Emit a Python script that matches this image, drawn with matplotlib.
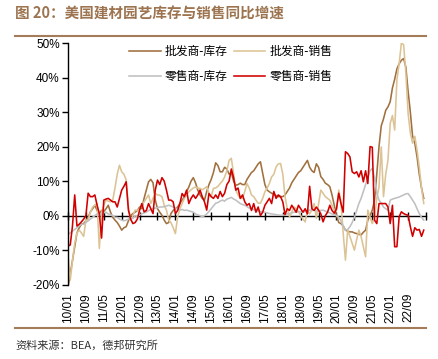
import numpy as np
import matplotlib
matplotlib.use("Agg")
import matplotlib.pyplot as plt
from matplotlib.lines import Line2D
from matplotlib.ticker import FuncFormatter

plt.rcParams["font.family"] = ["Liberation Sans", "Noto Sans CJK SC", "DejaVu Sans"]

# ─────────────────────────────────────────────
# Data: monthly YoY (%), 2010/01 - 2023/04
# ─────────────────────────────────────────────
tick_labels = ["10/01", "10/09", "11/05", "12/01", "12/09", "13/05", "14/01",
               "14/09", "15/05", "16/01", "16/09", "17/05", "18/01", "18/09",
               "19/05", "20/01", "20/09", "21/05", "22/01", "22/09"]

series_names = ["批发商-库存", "批发商-销售", "零售商-库存", "零售商-销售"]

wholesale_inv = [
    -20.6, -17, -13, -9, -5, -3.5, -2.5, -2.3, -1.5, -0.5, 1.1, 2,
    3, 1.5, 0.6, 1.5, 1.2, 2, 3, 1, -0.5, -1.3, -2, -3,
    -4.2, -3.5, -3.2, -1.5, 0, 0.6, 1, 1.5, 2.5, 2, 5, 7.4,
    9.8, 10.5, 9.5, 4.5, 2, 1, 0.1, -1.3, -2.3, -2, 0.6, 1.5,
    2, 2.5, 3.5, 4.5, 5.4, 7, 8.3, 10, 11, 9.5, 7.4, 6,
    5, 4.5, 7, 9, 10.5, 12.5, 15.3, 14.5, 12.7, 12.7, 14, 13.5,
    12, 12.5, 10, 8.8, 9, 9.4, 9, 9, 10.5, 11.5, 12.5, 13,
    14, 15, 15.6, 12.3, 9, 7.4, 6.9, 6.5, 6.2, 5.8, 5.5, 5.5,
    5.5, 6, 7, 8, 9.5, 10.5, 11.5, 12.5, 13, 14, 15, 16,
    14, 13, 12.5, 15, 14, 11.3, 10.5, 9.4, 9, 8.4, 6, 3,
    0, -2, -2.3, -3, -4.2, -4.5, -4.7, -4.7, -5, -5.2, -5.4, -5.6,
    -4.8, -4.2, -1.3, 0, 1.6, 4.5, 12, 20, 26, 28, 30.5, 31.5,
    33, 37, 39.5, 42.5, 44, 45, 45.5, 43, 36, 30, 23, 21,
    17, 12, 8, 5,
]

wholesale_sales = [
    -11.5, -18.7, -13, -8, -5, -4.2, -5, -6, -1.3, -1.3, 1, 2.5,
    3, 3.6, -9.5, 0.7, 3, 4.5, 4.2, 4, 4.5, 8, 12, 14.6,
    12.7, 12, 10.3, 2.5, -1.3, 0, 1.6, 1.5, 2, 3, 4, 5,
    6, 3.5, 5, 6.4, 6, 5.9, 5.5, 3, 1.6, -1.3, -2, -3.5,
    -5.2, -0.3, 2, 3.5, 5, 6, 6.9, 7.5, 8, 8.3, 8, 7.9,
    7.5, 7.9, 8.4, 6.5, 5.5, 7.9, 8, 8.5, 9.3, 10, 11.2, 13,
    16, 16.6, 12.2, 7.4, 6, 5, 5, 7, 9.3, 8, 6, 5.5,
    4.5, 3.6, 3.6, 5, 6.9, 8, 9.3, 11.2, 12, 14.1, 15, 15.1,
    12, 5.5, 2, -0.3, 1, 2.5, 2, 1.1, 0, -1, -1.8, 1.6,
    0.5, 1.6, 3.5, -0.8, 3.5, 7.4, 6.5, 5.5, 5, 4.5, 3, 1.6,
    1.6, 7.4, 4, -5.2, -12.9, -4.2, -6, -8, -10, -7, -4.2, -6.1,
    -9, -11.9, 1.6, -0.5, -2.3, -0.3, 5, 8.3, 19.9, 5.5, 12, 16,
    26.7, 29, 24.8, 39.3, 44, 50, 49.5, 41.2, 29.6, 24, 21, 23,
    19, 14, 8, 3.5,
]

retail_inv = [
    -5.4, -5, -4.5, -4, -3.5, -3, -2.5, -2.5, -2, -1.5, -1, -0.5,
    0, 0.5, 0, 0.5, 0.8, 1, 0.5, 0.3, 0, -0.5, -0.5, -1,
    -1.3, -1.5, -1.3, -1, -0.5, -0.8, 0, -0.3, 0.2, 0.5, 0.8, 1,
    1.5, 1.8, 2, 2.2, 2.3, 2.5, 2.5, 2.6, 2.8, 3, 2.8, 2.5,
    2.2, 2, 1.6, 1.8, 1.5, 1.6, 1.4, 1.2, 1, 0.5, 0.2, 0,
    -0.3, 0, 0.5, 1.2, 2, 2.8, 3.6, 3.8, 4.2, 4.5, 4.2, 4.8,
    5, 5.3, 4.8, 4.5, 4, 3.5, 3.2, 3, 2.6, 2.2, 2, 1.8,
    1.5, 1.4, 1.2, 1.1, 1, 0.8, 0.6, 0.5, 0.4, 0.3, 0.2, 0.1,
    0.1, 0.3, 0.5, 0.6, 0.8, 1, 1, 1.2, 1.1, 1, 1.2, 1.4,
    1.6, 1.5, 1.6, 1.4, 1.2, 1.5, 1.6, 1.3, 1, 0.8, 0.5, 0.2,
    0, -0.5, -1.5, -3, -4.2, -4, -3.2, -2, -0.5, 1.5, 3.5, 5,
    7, 9, 11, 13, 13.7, 11, 6.5, 4.5, 3.6, 2.5, 2, 1.6,
    4.5, 4.8, 5, 5.2, 5.4, 5.7, 6, 6.3, 6.4, 5.5, 4.5, 3.5,
    2, 0.6, -0.5, -1.3,
]

retail_sales = [
    -8.8, -8.5, -3, 6, -3, -2.5, -1.8, -1, 0, 6.5, 5.5, 5.5,
    6, 3, 0.6, -6.5, 4.5, 4.8, 5, 4.5, 4, 4, 2.5, 5,
    7.4, 8.5, 9.8, 1.6, -1, -2.3, -2, -1, 1.6, 3.5, 1.1, 1.5,
    3.5, 2, 0.6, 7.4, 10.3, 9, 11, 10, 7.4, 4.5, 4.5, 4,
    0.6, 1.5, 3.5, 6.4, 5.5, 7.4, 3.5, 5, 6, 5, 6, 7.4,
    5.5, 4, 1.6, 6.4, 5.5, 5, 6, 5, 7, 5.5, 6.5, 9,
    10, 13.5, 11, 7.4, 8, 5, 6, 4, 3, 3.5, 1.5, 3.5,
    1, 2.5, 0, 1, 3, 4, 5, 3.5, 7, 5, 6, 5.5,
    4, 0.3, 2, 1.5, 3, 2, 1, 3, 2, 1, 2, 0.5,
    8.5, 2, 1.5, 2.5, 1.6, 0.5, -1.8, 0, 1, 3, 1.5, 0.7,
    2, 6.5, 3.5, 1, 18.5, 18, 17, 12.7, 12.2, 12.7, 11.2, 13,
    9.8, 13, 9.3, 20, 19.8, -1.3, -2.3, 3.5, 3.5, 3.5, 3.5, 2.5,
    -2.3, 3, -9, -9, -0.3, 1.1, 0.6, 0.3, 0.1, -3.2, -6, -3.5,
    -4.2, -4, -6, -4.2,
]

colors = ["#A0703F", "#DCC395", "#C0C0C0", "#D00000"]
brown = "#A57C58"

# ─────────────────────────────────────────────
# Figure
# ─────────────────────────────────────────────
W, H = 439, 359
fig = plt.figure(figsize=(W / 100, H / 100), dpi=100)
ax = fig.add_axes([68 / W, 1 - 284.7 / H, (426 - 68) / W, (284.7 - 43) / H])

x = np.arange(len(wholesale_inv))
handles = []
for vals, c, name in zip([wholesale_inv, wholesale_sales, retail_inv, retail_sales],
                         colors, series_names):
    h, = ax.plot(x, vals, color=c, lw=1.15, label=name, solid_joinstyle="round")
    handles.append(h)

ax.set_xlim(0, 160)
ax.set_ylim(-20, 50)
ax.set_yticks(range(-20, 51, 10))
ax.yaxis.set_major_formatter(FuncFormatter(lambda v, p: f"{v:.0f}%"))
ax.tick_params(axis="y", direction="out", length=4, width=1, labelsize=8.5, pad=2)

tick_pos = list(range(0, 161, 8))
ax.set_xticks(tick_pos)
ax.set_xticklabels(tick_labels + [""], rotation=90, fontsize=8.5)
ax.tick_params(axis="x", length=0, pad=6)

for s in ["top", "right", "bottom"]:
    ax.spines[s].set_visible(False)
ax.spines["left"].set_linewidth(1)

# axis line with tick marks at y = 0
sec = ax.secondary_xaxis(0, transform=ax.transData)
sec.set_xticks(tick_pos)
sec.tick_params(axis="x", direction="inout", length=6, width=1,
                labelbottom=False, labeltop=False)
sec.spines["bottom"].set_linewidth(1)

order = [0, 2, 1, 3]
ax.legend([handles[i] for i in order], [series_names[i] for i in order],
          ncol=2, loc="upper left", bbox_to_anchor=(0.14, 1.035), frameon=False,
          prop={"family": "Noto Sans CJK SC", "size": 8.5}, handlelength=2.7,
          handletextpad=0.35, columnspacing=0.5, labelspacing=1.0)

# title, rules and source
fig.text(15 / W, 1 - 14 / H, "图 20：美国建材园艺库存与销售同比增速", color="#9C7450",
         fontsize=10.5, fontweight="bold", family=["Noto Sans CJK SC"], va="center", ha="left")
fig.add_artist(Line2D([15 / W, 426 / W], [1 - 36 / H] * 2, color=brown, lw=1.5))
fig.add_artist(Line2D([15 / W, 426 / W], [1 - 328 / H] * 2, color=brown, lw=1.5))
fig.text(15 / W, 1 - 345 / H, "资料来源：BEA，德邦研究所", color="#333333",
         fontsize=8, family=["Noto Sans CJK SC", "Liberation Sans"], va="center", ha="left")

fig.savefig("out.png", dpi=100)
